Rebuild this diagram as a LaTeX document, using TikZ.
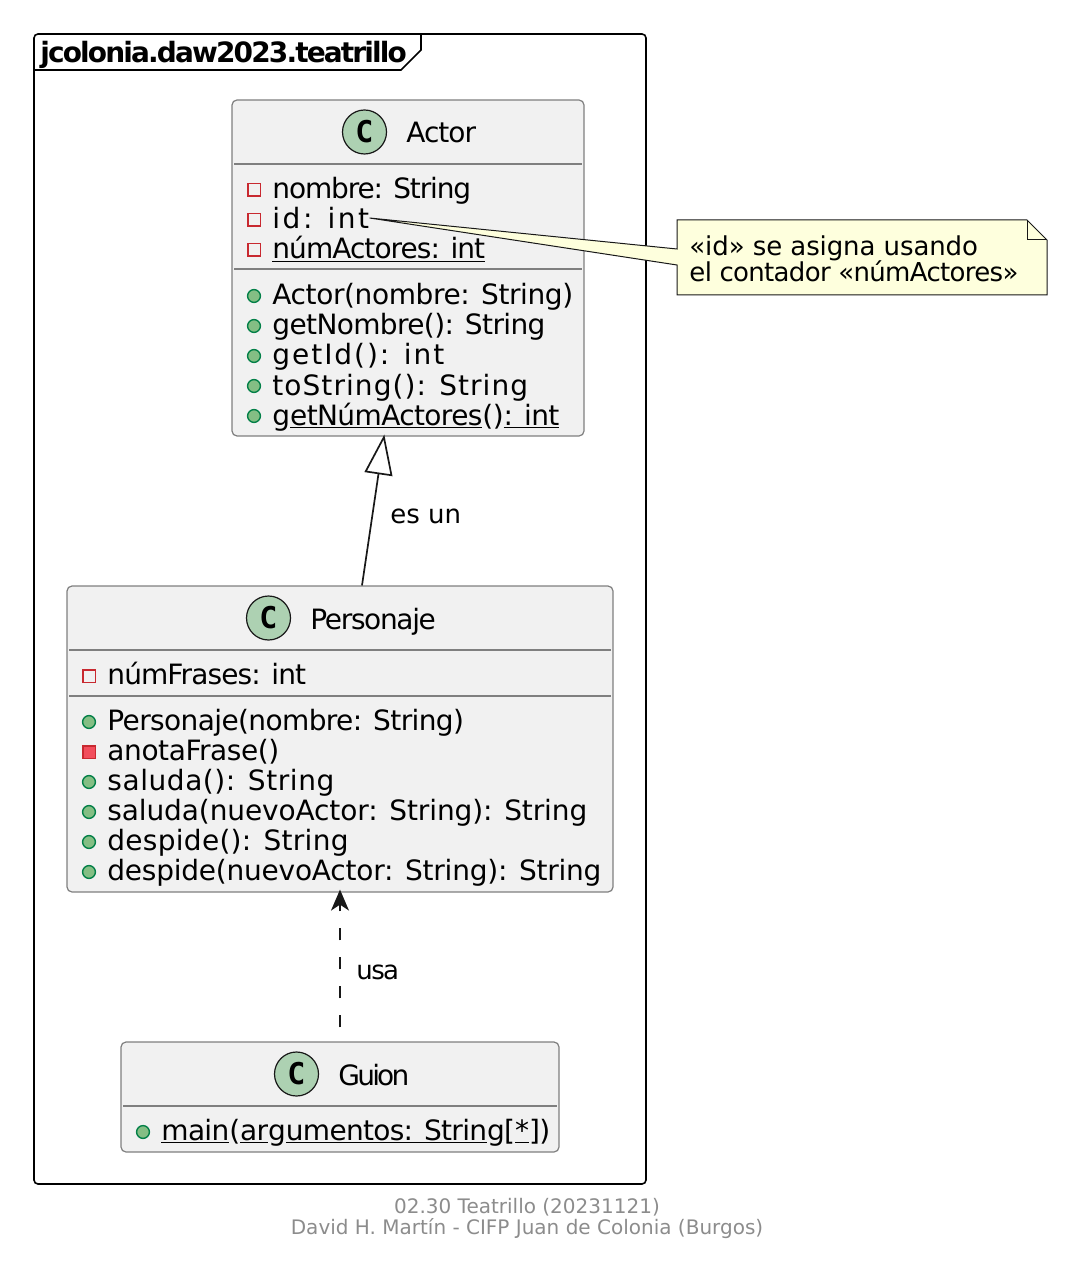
\documentclass[tikz,border=0pt]{standalone}
\usepackage{fontspec}
\setmainfont{DejaVu Sans}
\newfontfamily\circfont{DejaVu Sans Mono}[BoldFont={DejaVu Sans Mono Bold}]
\usepackage{tikz}
\usetikzlibrary{arrows.meta}
\usepackage{xcolor}

\definecolor{classfill}{HTML}{F1F1F1}
\definecolor{classline}{HTML}{7F7F7F}
\definecolor{inkline}{HTML}{181818}
\definecolor{circfill}{HTML}{ADD1B2}
\definecolor{notefill}{HTML}{FEFFDD}
\definecolor{privline}{HTML}{C82930}
\definecolor{privfill}{HTML}{F24D5C}
\definecolor{publine}{HTML}{038048}
\definecolor{pubfill}{HTML}{84BE84}

\newcommand{\lsp}[2]{{\addfontfeature{LetterSpace=#1}#2}}
\newcommand{\ulin}[1]{\setbox0=\hbox{#1}\rlap{\rule[-1.7pt]{\wd0}{0.7pt}}\box0}

\tikzset{
    classbox/.style={draw=classline,fill=classfill,line width=0.6pt,rounded corners=2.5pt,inner sep=0pt},
    sepline/.style={draw=classline,line width=0.6pt},
    circbox/.style={circle,draw=inkline,fill=circfill,line width=0.6pt,minimum size=22pt,inner sep=0pt,font=\circfont\bfseries\fontsize{15pt}{15pt}\selectfont},
    titletxt/.style={anchor=base west,inner sep=0pt,font=\fontsize{14pt}{14pt}\selectfont},
    membtxt/.style={anchor=base west,inner sep=0pt,font=\fontsize{14pt}{14pt}\selectfont},
    labeltxt/.style={anchor=base west,inner sep=0pt,font=\fontsize{13pt}{13pt}\selectfont},
    foottxt/.style={anchor=base,inner sep=0pt,text=gray!90,font=\fontsize{10pt}{10pt}\selectfont},
    privfield/.style={rectangle,draw=privline,line width=0.7pt,minimum width=6.2pt,minimum height=6.2pt,inner sep=0pt},
    privmeth/.style={privfield,fill=privfill},
    pubmeth/.style={circle,draw=publine,fill=pubfill,line width=0.7pt,minimum size=6.4pt,inner sep=0pt},
    edgeline/.style={draw=inkline,line width=0.85pt},
}

\begin{document}
\begin{tikzpicture}[x=0.5pt,y=-0.5pt]

        \useasboundingbox (0,0) rectangle (1080,1272);

        % package frame
        \draw[black,line width=0.8pt,rounded corners=2pt] (34,34) rectangle (646,1184);
        \draw[black,line width=0.8pt] (34,70) -- (401,70) -- (421,50) -- (421,34);
        \node[titletxt] (pkgname) at (40,63) {\bfseries\lsp{-6.7}{jcolonia.daw2023.teatrillo}};

        % classes
        \node[classbox,minimum width=176pt,minimum height=168pt] (Actor) at (408,268) {};
        \node[classbox,minimum width=273pt,minimum height=153pt] (Personaje) at (340,739) {};
        \node[classbox,minimum width=219pt,minimum height=55pt] (Guion) at (340,1097) {};

        \foreach \xa/\xb/\yy in {234/582/164,234/582/269,69/611/650,69/611/696,123/557/1106}
            \draw[sepline] (\xa,\yy) -- (\xb,\yy);

        \node[circbox] (actorC) at (364.5,132) {C};
        \node[circbox] (personajeC) at (268.5,618) {C};
        \node[circbox] (guionC) at (296.5,1074) {C};

        \node[membtxt] (actorName) at (406,143) {\lsp{-3.6}{Actor}};
        \node[membtxt] (personajeName) at (310,629) {\lsp{-4.8}{Personaje}};
        \node[membtxt] (guionName) at (338,1085) {\lsp{-10}{Guion}};

        % Actor
        \foreach \i/\yy/\kind/\rowtext in {
            1/190/privfield/{\lsp{-4.1}{nombre: String}},
            2/220/privfield/{\lsp{9}{id: int}},
            3/250/privfield/{\lsp{-3.4}{\ulin{númActores: int}}},
            4/296/pubmeth/{\lsp{-1.4}{Actor(nombre: String)}},
            5/326/pubmeth/{\lsp{-2.25}{getNombre(): String}},
            6/356/pubmeth/{\lsp{7}{getId(): int}},
            7/386/pubmeth/{\lsp{3.8}{toString(): String}},
            8/416/pubmeth/{\lsp{-2.2}{g\ulin{etNúmActores}()\ulin{: int}}}}
        {
            \node[\kind] (actIcon\i) at (254,\yy) {};
            \node[membtxt] (actRow\i) at (272,\yy+9) {\rowtext};
        }

        % Personaje
        \foreach \i/\yy/\kind/\rowtext in {
            1/676/privfield/{\lsp{-3.2}{númFrases: int}},
            2/722/pubmeth/{\lsp{-2.2}{Personaje(nombre: String)}},
            3/752/privmeth/{\lsp{-1.5}{anotaFrase()}},
            4/782/pubmeth/{\lsp{2}{saluda(): String}},
            5/812/pubmeth/{\lsp{-0.4}{saluda(nuevoActor: String): String}},
            6/842/pubmeth/{\lsp{1}{despide(): String}},
            7/872/pubmeth/{\lsp{-0.8}{despide(nuevoActor: String): String}}}
        {
            \node[\kind] (perIcon\i) at (89,\yy) {};
            \node[membtxt] (perRow\i) at (107,\yy+8) {\rowtext};
        }

        % Guion
        \node[pubmeth] (guiIcon1) at (143,1132) {};
        \node[membtxt] (guiRow1) at (161,1140) {\lsp{-2.5}{\ulin{main}(\ulin{ar}g\ulin{umentos: Strin}g[\ulin{*}])}};

        % relations
        \coordinate[xshift=-12pt] (ActorB) at (Actor.south);
        \coordinate[xshift=11pt] (PersT) at (Personaje.north);

        \draw[edgeline,shorten >=-1pt,-{Triangle[open,length=20pt 0 0,width=14pt,fill=white]}] (PersT) -- (ActorB);
        \node[labeltxt] (esun) at (390,523) {es un};

        \draw[edgeline,shorten >=-1.5pt,dash pattern=on 6pt off 8.5pt,dash phase=7.5pt,-{Stealth[length=10.5pt 0 0,width=9pt,inset=3pt,fill=inkline]}] (Guion.north) -- (Personaje.south);
        \node[labeltxt] (usa) at (356,979) {\lsp{-6.4}{usa}};

        % note
        \coordinate[yshift=5.5pt] (IdTip) at (actRow2.base east);
        \draw[draw=inkline,fill=notefill,line width=0.5pt] (677,220) -- (1027,220) -- (1047,240) -- (1047,295) -- (677,295) -- (677,265) -- (IdTip) -- (677,249) -- cycle;
        \draw[draw=inkline,line width=0.5pt] (1027,220) -- (1027,240) -- (1047,240);
        \node[labeltxt] (noteA) at (689,256) {\lsp{-0.4}{«id» se asigna usando}};
        \node[labeltxt] (noteB) at (689,282) {\lsp{-2.6}{el contador «númActores»}};

        % footer
        \node[foottxt] (footA) at (527,1213) {02.30 Teatrillo (20231121)};
        \node[foottxt] (footB) at (527,1234) {David H. Martín - CIFP Juan de Colonia (Burgos)};

    \end{tikzpicture}
\end{document}
